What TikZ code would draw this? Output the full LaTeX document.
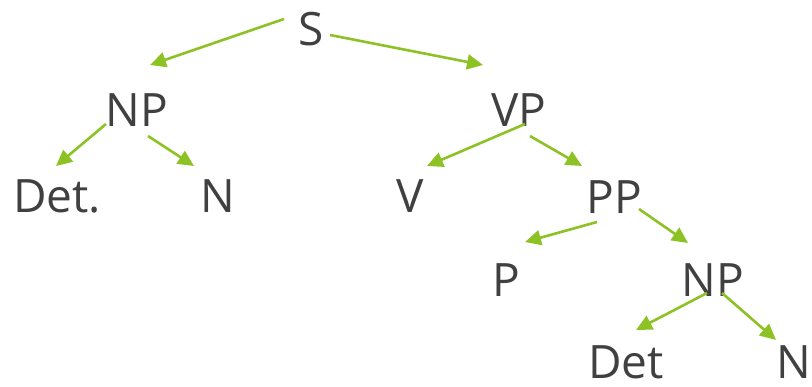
\documentclass[tikz,border=0pt]{standalone}
\usepackage{fontspec}
\setmainfont{Open Sans}
\usetikzlibrary{arrows.meta,calc}
\definecolor{branch}{HTML}{8CC224}
\definecolor{ink}{HTML}{404040}
\begin{document}
\begin{tikzpicture}[x=1pt,y=-1pt,>={Triangle[length=16pt,width=15pt]},
  cat/.style={text=ink,inner sep=0pt,font=\fontsize{46}{48}\selectfont},
  edge/.style={->,draw=branch,fill=branch,line width=2.6pt}]
 \useasboundingbox (0,0) rectangle (812,387);
 % categories, top to bottom
 \node[cat] (s) at (311,29) {S};
 \node[cat] (np) at (137,110) {NP};
 \node[cat] (vp) at (519,110) {VP};
 \node[cat] (det) at (57,196) {Det.};
 \node[cat] (n) at (218,196) {N};
 \node[cat] (v) at (410,196) {V};
 \node[cat] (pp) at (614,197) {PP};
 \node[cat] (p) at (506,280) {P};
 \node[cat] (np2) at (713,280) {NP};
 \node[cat] (det2) at (626,362) {Det};
 \node[cat] (n2) at (794,362) {N};
 % branches
 \draw[edge] ($(s)+(-27,-10)$) -- ($(np)+(13,-45)$);
 \draw[edge] ($(s)+(19,6)$) -- ($(vp)+(-36,-45)$);
 \draw[edge] ($(np)+(-31,14)$) -- ($(det)+(-1,-30)$);
 \draw[edge] ($(np)+(11,26)$) -- ($(n)+(-24,-30)$);
 \draw[edge] ($(vp)+(6,14)$) -- ($(v)+(17,-30)$);
 \draw[edge] ($(vp)+(11,26)$) -- ($(pp)+(-32,-31)$);
 \draw[edge] ($(pp)+(-17,25)$) -- ($(p)+(19,-38)$);
 \draw[edge] ($(pp)+(25,12)$) -- ($(np2)+(-25,-37)$);
 \draw[edge] ($(np2)+(-6,13)$) -- ($(det2)+(10,-32)$);
 \draw[edge] ($(np2)+(9,13)$) -- ($(n2)+(-18,-22)$);
\end{tikzpicture}
\end{document}
